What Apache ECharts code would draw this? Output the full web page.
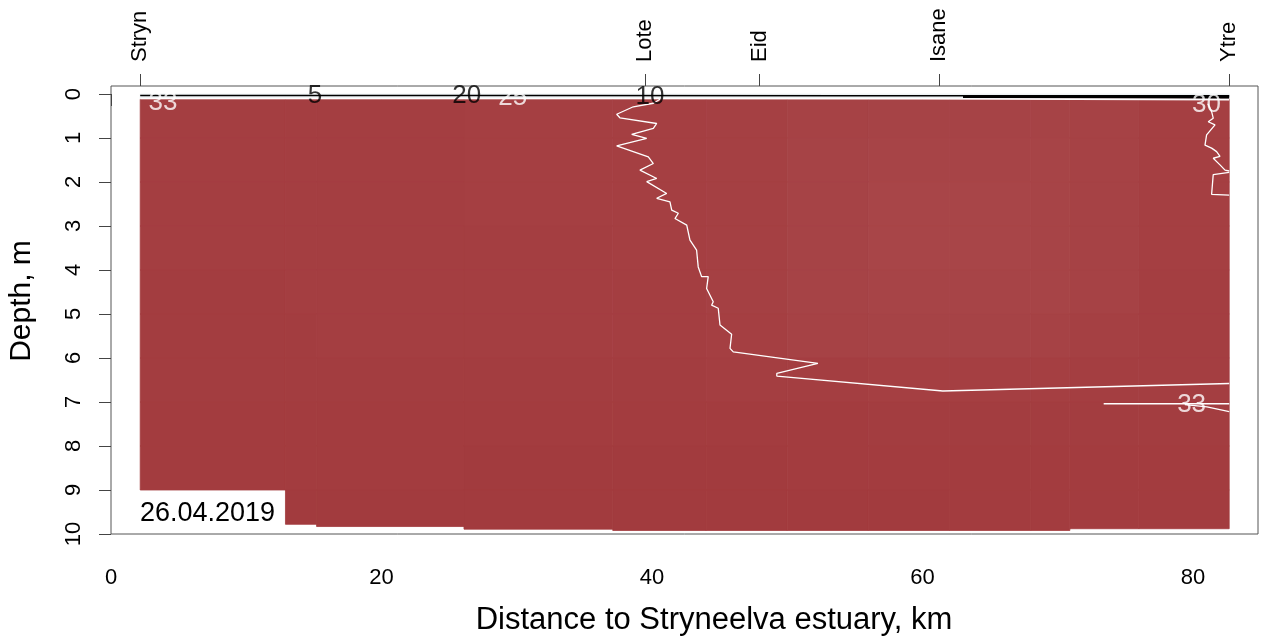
<!DOCTYPE html>
<html>
<head>
<meta charset="utf-8">
<script src="https://cdn.jsdelivr.net/npm/echarts@6/dist/echarts.min.js"></script>
<style>
html,body{margin:0;padding:0;background:#fff;}
#chart{width:1261px;height:643px;}
</style>
</head>
<body>
<div id="chart"></div>
<script>
// ---------- data ----------
const xTicks = [0, 20, 40, 60, 80];
const depthTicks = [0, 1, 2, 3, 4, 5, 6, 7, 8, 9, 10];
const stationNames = ['Stryn', 'Lote', 'Eid', 'Isane', 'Ytre'];
const stationKm = [2.16, 39.5, 47.96, 61.24, 82.68];

// section grid: column edges (km), column bottom depth (m), layer edges (m)
const columnEdgesKm = [2.16, 12.9, 15.2, 26.1, 37.1, 44, 50, 56, 62, 68, 70.9, 76, 82.68];
const columnBottomM = [9.0, 9.78, 9.83, 9.89, 9.92, 9.92, 9.92, 9.92, 9.92, 9.92, 9.88, 9.88];
const layerEdgesM = [0, 0.12, 1, 2, 3, 4, 5, 6, 7, 8, 9, 10];
// salinity per layer (rows) and column
const salinityRows = [
  [18, 12, 15, 22, 14, 20, 24, 26, 28, 29, 29, 29],
  [34.0, 34.0, 34.0, 33.9, 33.9, 33.8, 33.7, 33.6, 33.6, 33.6, 33.7, 33.9],
  [34.0, 34.0, 34.0, 33.9, 33.9, 33.8, 33.6, 33.5, 33.5, 33.5, 33.7, 33.9],
  [34.0, 34.0, 34.0, 33.9, 33.9, 33.8, 33.6, 33.4, 33.4, 33.5, 33.7, 33.9],
  [34.0, 34.0, 34.0, 34.0, 33.9, 33.8, 33.6, 33.4, 33.4, 33.5, 33.7, 33.9],
  [34.1, 34.0, 34.0, 34.0, 34.0, 33.8, 33.6, 33.5, 33.5, 33.5, 33.7, 34.0],
  [34.1, 34.1, 34.0, 34.0, 34.0, 33.9, 33.7, 33.6, 33.6, 33.7, 33.8, 34.0],
  [34.1, 34.1, 34.1, 34.1, 34.1, 34.0, 34.0, 33.9, 33.9, 33.9, 34.0, 34.0],
  [34.2, 34.2, 34.2, 34.2, 34.2, 34.2, 34.2, 34.1, 34.1, 34.1, 34.1, 34.1],
  [34.2, 34.2, 34.2, 34.3, 34.3, 34.3, 34.2, 34.2, 34.2, 34.2, 34.2, 34.2],
  [34.3, 34.3, 34.3, 34.3, 34.3, 34.3, 34.3, 34.3, 34.2, 34.2, 34.2, 34.2]
];

// contour lines [km, depth m]
const contour33Lote = [
  [40.6, 0.12], [40.10, 0.21], [38.62, 0.29], [37.39, 0.46], [37.63, 0.54], [40.35, 0.67],
  [40.10, 0.78], [38.50, 0.92], [39.61, 1.01], [37.39, 1.18], [39.73, 1.43], [40.10, 1.58],
  [39.11, 1.73], [40.35, 1.92], [39.61, 1.99], [41.09, 2.26], [40.35, 2.37], [41.33, 2.45],
  [41.46, 2.64], [41.95, 2.71], [41.70, 2.83], [42.57, 2.98], [42.81, 3.32], [43.30, 3.55],
  [43.42, 3.93], [43.67, 4.15], [44.16, 4.15], [44.04, 4.42], [44.53, 4.72], [44.41, 4.80],
  [44.90, 4.87], [45.03, 5.25], [45.89, 5.46], [45.77, 5.78], [46.01, 5.86], [52.27, 6.12],
  [49.23, 6.35], [49.23, 6.41], [61.51, 6.75], [82.68, 6.58]
];
const contour33Deep = [[82.68, 7.04], [73.4, 7.04]];
const contour33DeepB = [[79.4, 7.06], [81.04, 7.11], [82.68, 7.22]];
const contour30Ytre = [
  [81.1, 0.22], [81.38, 0.40], [81.50, 0.55], [81.13, 0.63], [81.63, 0.70], [81.01, 0.93],
  [80.89, 1.16], [81.38, 1.23], [81.75, 1.31], [82.00, 1.42], [81.50, 1.46], [82.00, 1.61],
  [82.37, 1.73], [82.68, 1.75]
];
const contour30YtreB = [[82.68, 1.78], [81.50, 1.83], [81.38, 2.28], [82.68, 2.30]];
const surfaceBlack = [[2.16, 0.035], [30, 0.035], [55, 0.04], [82.68, 0.04]];
const surfaceBlackThick = [[63, 0.055], [72, 0.06], [82.68, 0.07]];
const surfaceWhite = [[2.16, 0.1], [40, 0.1], [60, 0.11], [82.68, 0.13]];

const contourLabelKm = [3.85, 15.08, 26.3, 29.7, 39.85, 81.0, 79.9];
const contourLabelDepth = [0.2, 0.05, 0.05, 0.09, 0.07, 0.25, 7.07];
const contourLabelLevel = [33, 5, 20, 25, 10, 30, 33];

const dateText = '26.04.2019';

// ---------- build ----------
const FONT = "'Liberation Sans', Arial, sans-serif";
const levelColor = {5: '#000', 10: '#000', 20: '#000', 25: '#fff', 30: '#fff', 33: '#fff'};

const cells = [];
for (let r = 0; r < salinityRows.length; r++) {
  for (let c = 0; c < columnEdgesKm.length - 1; c++) {
    const d0 = layerEdgesM[r];
    const d1 = Math.min(layerEdgesM[r + 1], columnBottomM[c]);
    if (d1 <= d0) continue;
    cells.push([columnEdgesKm[c], columnEdgesKm[c + 1], d0, d1, salinityRows[r][c]]);
  }
}

const labelData = contourLabelKm.map((k, i) => ({
  value: [k, contourLabelDepth[i]],
  name: String(contourLabelLevel[i]),
  label: {color: levelColor[contourLabelLevel[i]]}
}));

function lineSeries(data, color, width) {
  return {
    type: 'line', data: data, symbol: 'none', showSymbol: false, z: 4,
    lineStyle: {color: color, width: width}, silent: true, animation: false
  };
}

const chart = echarts.init(document.getElementById('chart'), null, {renderer: 'canvas'});
chart.setOption({
  animation: false,
  backgroundColor: '#fff',
  grid: {left: 111, right: 3, top: 86, bottom: 109, show: true, borderColor: '#555', borderWidth: 1, backgroundColor: 'transparent'},
  xAxis: [
    {
      type: 'value', position: 'bottom', min: 0, max: 84.81,
      axisLine: {show: false},
      splitLine: {show: false},
      axisTick: {show: true, length: 12, customValues: xTicks, lineStyle: {color: '#444'}},
      axisLabel: {customValues: xTicks, fontSize: 22, color: '#000', fontFamily: FONT, margin: 33}
    },
    {
      type: 'value', position: 'top', min: 0, max: 84.81,
      axisLine: {show: false},
      splitLine: {show: false},
      axisTick: {show: true, length: 12, customValues: stationKm, lineStyle: {color: '#444'}},
      axisLabel: {
        customValues: stationKm, rotate: -90, fontSize: 22, color: '#000', fontFamily: FONT, margin: 24,
        formatter: function (v) {
          let best = 0;
          for (let i = 1; i < stationKm.length; i++) {
            if (Math.abs(stationKm[i] - v) < Math.abs(stationKm[best] - v)) best = i;
          }
          return stationNames[best];
        }
      }
    }
  ],
  yAxis: {
    type: 'value', inverse: true, min: -0.182, max: 10,
    axisLine: {show: false},
    splitLine: {show: false},
    axisTick: {show: true, length: 12, customValues: depthTicks, lineStyle: {color: '#444'}},
    axisLabel: {customValues: depthTicks, rotate: 90, fontSize: 22, color: '#000', fontFamily: FONT, margin: 26}
  },
  visualMap: {
    show: false, type: 'continuous', min: 30, max: 34.5, dimension: 4, seriesIndex: 0,
    inRange: {color: ['#eef2f4', '#e2c8c9', '#d29fa1', '#c27a7c', '#b66264', '#ae5255', '#aa4a4d', '#a74447', '#a43e41', '#a1393c']}
  },
  series: [
    {
      type: 'custom', data: cells, encode: {x: [0, 1], y: [2, 3]}, z: 1, silent: true,
      renderItem: function (params, api) {
        const p0 = api.coord([api.value(0), api.value(2)]);
        const p1 = api.coord([api.value(1), api.value(3)]);
        const col = api.visual('color');
        return {
          type: 'rect',
          shape: {x: Math.min(p0[0], p1[0]), y: Math.min(p0[1], p1[1]), width: Math.abs(p1[0] - p0[0]), height: Math.abs(p1[1] - p0[1])},
          style: {fill: col, stroke: col, lineWidth: 0.8}
        };
      }
    },
    lineSeries(surfaceBlack, '#000', 1.5),
    lineSeries(surfaceBlackThick, '#000', 3),
    lineSeries(surfaceWhite, '#fff', 1.5),
    lineSeries(contour33Lote, '#fff', 1.3),
    lineSeries(contour33Deep, '#fff', 1.3),
    lineSeries(contour33DeepB, '#fff', 1.3),
    lineSeries(contour30Ytre, '#fff', 1.3),
    lineSeries(contour30YtreB, '#fff', 1.3),
    {
      type: 'scatter', data: labelData, symbolSize: 0, z: 6, silent: true,
      label: {show: true, position: 'inside', formatter: function (p) { return p.name; }, fontSize: 26, fontFamily: FONT}
    }
  ],
  graphic: [
    {type: 'text', left: 140, top: 500, z: 10, style: {text: dateText, fontSize: 27, fill: '#000', fontFamily: FONT}},
    {type: 'text', x: 22, y: 301, rotation: Math.PI / 2, z: 10, style: {text: 'Depth, m', fontSize: 30, fill: '#000', fontFamily: FONT, align: 'center', verticalAlign: 'middle'}},
    {type: 'text', x: 714, y: 620, z: 10, style: {text: 'Distance to Stryneelva estuary, km', fontSize: 31, fill: '#000', fontFamily: FONT, align: 'center', verticalAlign: 'middle'}}
  ]
});
</script>
</body>
</html>
